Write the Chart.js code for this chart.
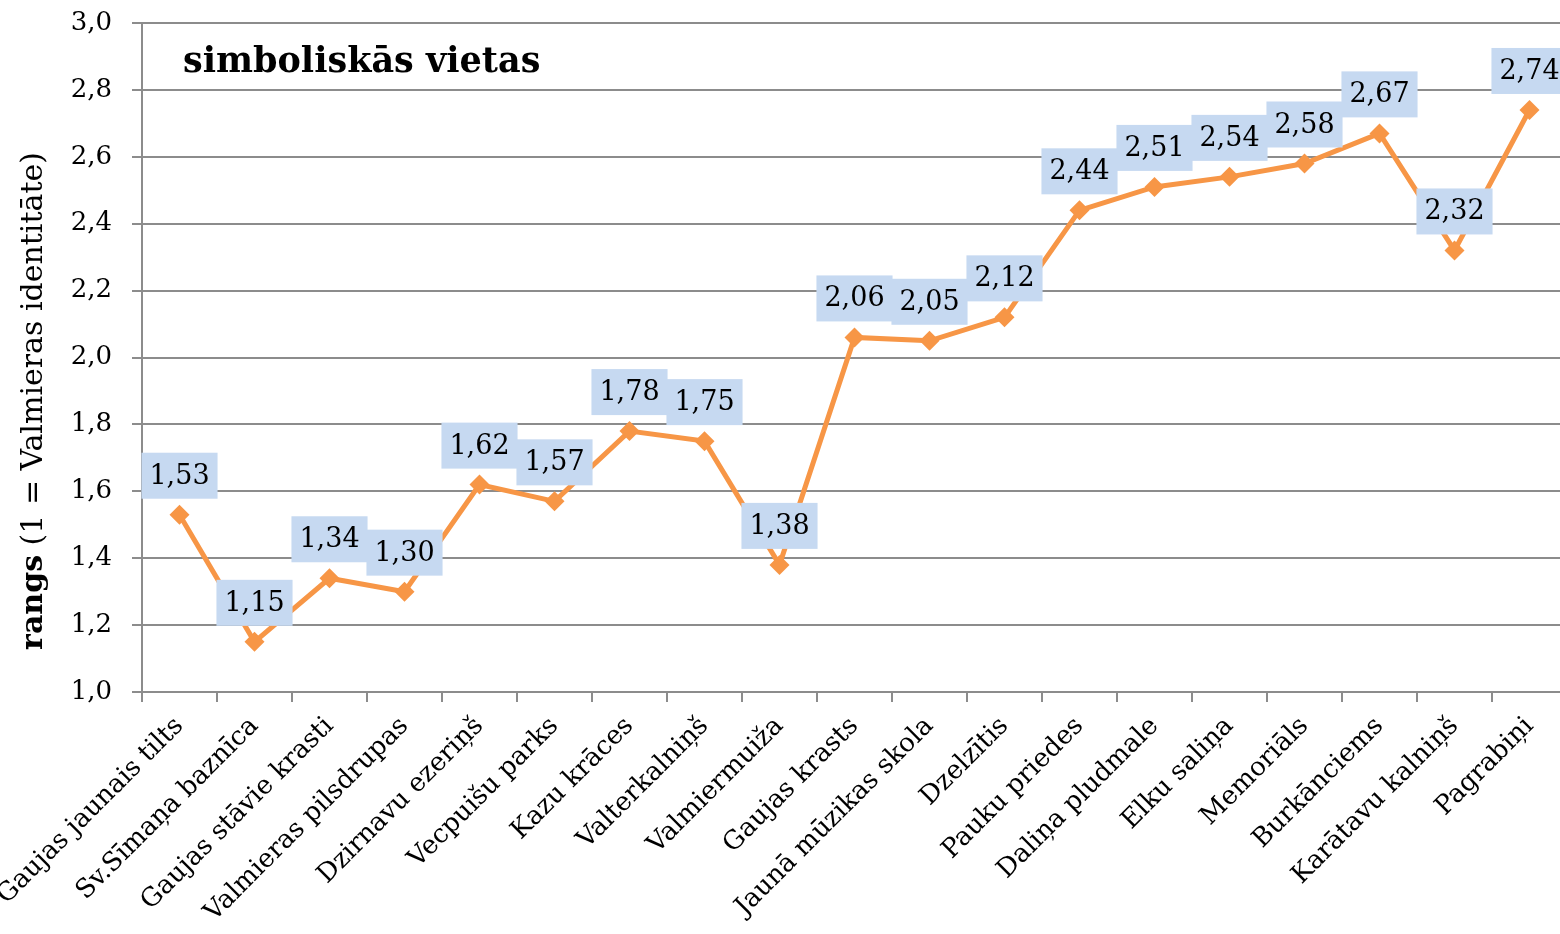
<!DOCTYPE html>
<html>
<head>
<meta charset="utf-8">
<script src="https://cdn.jsdelivr.net/npm/chart.js@4.4.1/dist/chart.umd.min.js"></script>
<style>
  html, body { margin: 0; padding: 0; background: #ffffff; overflow: hidden; width: 1560px; height: 934px; }
  #wrap { position: relative; width: 1567px; height: 934px; }
</style>
</head>
<body>
<div id="wrap"><canvas id="chart"></canvas></div>
<script>
const places = ['Gaujas jaunais tilts', 'Sv.Sīmaņa baznīca', 'Gaujas stāvie krasti', 'Valmieras pilsdrupas',
    'Dzirnavu ezeriņš', 'Vecpuišu parks', 'Kazu krāces', 'Valterkalniņš', 'Valmiermuiža', 'Gaujas krasts',
    'Jaunā mūzikas skola', 'Dzelzītis', 'Pauku priedes', 'Daliņa pludmale', 'Elku saliņa', 'Memoriāls',
    'Burkānciems', 'Karātavu kalniņš', 'Pagrabiņi'];
const ranks = [1.53, 1.15, 1.34, 1.30, 1.62, 1.57, 1.78, 1.75, 1.38, 2.06, 2.05, 2.12, 2.44, 2.51, 2.54, 2.58, 2.67, 2.32, 2.74];

const chartTitle = 'simboliskās vietas';
const yTitleBold = 'rangs';
const yTitleRest = ' (1 = Valmieras identitāte)';

const FONT = '"DejaVu Serif", "Liberation Serif", serif';
const GRID = '#8c8c8c';
const ORANGE = '#F79646';
const fmt = v => v.toFixed(2).replace('.', ',');

// datu etiķetes zilos lodziņos + virsraksti
const labelsPlugin = {
    id: 'labelsPlugin',
    afterDatasetsDraw(chart) {
        const ctx = chart.ctx;
        const meta = chart.getDatasetMeta(0);
        ctx.save();
        ctx.font = '27px ' + FONT;
        ctx.textAlign = 'center';
        ctx.textBaseline = 'middle';
        meta.data.forEach((pt, i) => {
            const txt = fmt(ranks[i]);
            const w = ctx.measureText(txt).width + 16;
            const h = 46;
            const cy = pt.y - 39;
            ctx.fillStyle = '#C6D9F1';
            ctx.fillRect(pt.x - w / 2, cy - h / 2, w, h);
            ctx.fillStyle = '#000000';
            ctx.fillText(txt, pt.x, cy + 1);
        });
        ctx.restore();
    },
    afterDraw(chart) {
        const ctx = chart.ctx;
        const area = chart.chartArea;
        ctx.save();
        // virsraksts diagrammas laukumā
        ctx.font = 'bold 35px ' + FONT;
        ctx.fillStyle = '#000000';
        ctx.textAlign = 'left';
        ctx.textBaseline = 'alphabetic';
        ctx.fillText(chartTitle, area.left + 41, 72);

        // Y ass nosaukums
        ctx.translate(34, 401);
        ctx.rotate(-Math.PI / 2);
        ctx.textBaseline = 'middle';
        ctx.font = 'bold 30px ' + FONT;
        const wb = ctx.measureText(yTitleBold).width;
        ctx.font = '30px ' + FONT;
        const wr = ctx.measureText(yTitleRest).width;
        let x = -(wb + wr) / 2;
        ctx.font = 'bold 30px ' + FONT;
        ctx.fillText(yTitleBold, x, 0);
        ctx.font = '30px ' + FONT;
        ctx.fillText(yTitleRest, x + wb, 0);
        ctx.restore();
    }
};

new Chart(document.getElementById('chart'), {
    type: 'line',
    data: {
        labels: places,
        datasets: [{
            data: ranks,
            borderColor: ORANGE,
            backgroundColor: ORANGE,
            borderWidth: 5,
            tension: 0,
            pointStyle: 'rectRot',
            pointRadius: 10,
            pointHoverRadius: 10,
            pointBorderWidth: 0
        }]
    },
    options: {
        responsive: true, maintainAspectRatio: false, animation: false,
        layout: { autoPadding: false, padding: { top: 23, right: 0, left: 0, bottom: 0 } },
        plugins: { legend: { display: false }, tooltip: { enabled: false } },
        scales: {
            x: {
                offset: true,
                grid: { display: true, offset: true, drawOnChartArea: false, drawTicks: true, tickLength: 10, color: GRID, lineWidth: 2 },
                border: { color: GRID, width: 2 },
                ticks: { autoSkip: false, maxRotation: 45, minRotation: 45, padding: 9, color: '#000', font: { family: FONT, size: 26 } },
                afterFit: s => { s.height = 242; s.paddingLeft = 0; s.paddingRight = 0; }
            },
            y: {
                min: 1, max: 3,
                grid: { color: GRID, lineWidth: 2, tickLength: 10 },
                border: { color: GRID, width: 2 },
                ticks: { stepSize: 0.2, padding: 20, color: '#000', font: { family: FONT, size: 26 },
                    callback: v => v.toFixed(1).replace('.', ',') },
                afterFit: s => { s.width = 142; s.paddingTop = 0; s.paddingBottom = 0; }
            }
        }
    },
    plugins: [labelsPlugin]
});
</script>
</body>
</html>
